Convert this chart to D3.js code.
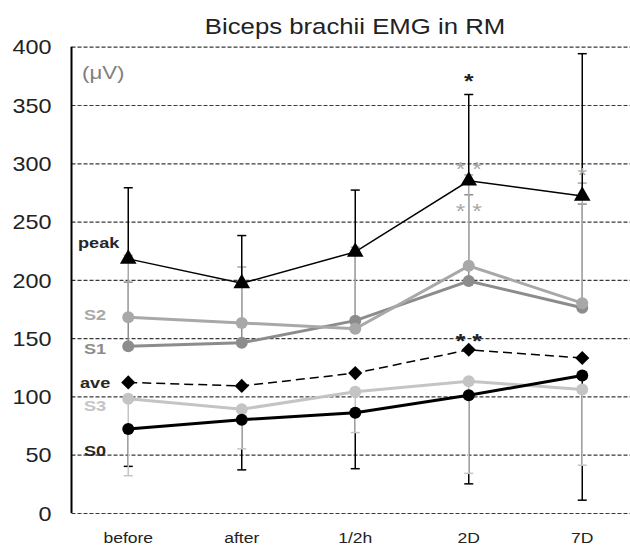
<!DOCTYPE html>
<html>
<head>
<meta charset="utf-8">
<script src="https://cdn.jsdelivr.net/npm/d3@7"></script>
<style>
  body { margin: 0; background: #fff; }
  text { font-family: "Liberation Sans", Arial, sans-serif; }
</style>
</head>
<body>
<div id="chart"></div>
<script>
// categories and tick values
const categories = ["before", "after", "1/2h", "2D", "7D"];
const yTicks = [0, 50, 100, 150, 200, 250, 300, 350, 400];

// series means (µV)
const peak = [218, 197, 224, 285, 272];
const s2 = [168, 163, 158, 212, 180];
const s1 = [143, 146, 165, 199, 176];
const ave = [112, 109, 120, 140, 133];
const s3 = [98, 89, 104, 113, 106];
const s0 = [72, 80, 86, 101, 118];

// error bar ends (one sided)
const peakUpper = [279, 238, 277, 359, 394];
const s2Upper = [221, 211, 228, 290, 283];
const s1Upper = [198, 195, 222, 273, 265];
const s3Lower = [32, 55, 69, 34, 41];
const s0Lower = [40, 37, 38, 25, 11];

// significance marks: category, level (µV), text
const starCats = ["2D", "2D", "2D", "7D", "2D"];
const starLevels = [375, 299, 263, 294, 152];
const starTexts = ["*", "* *", "* *", "*", "* *"];
const starIsGray = [false, true, true, true, false];

// series name tags placed at the left, level in µV
const tagNames = ["peak", "S2", "S1", "ave", "S3", "S0"];
const tagLevels = [232, 170, 141, 112, 92, 54];

const W = 630, H = 546;
const stretch = 1.17; // text in the picture is slightly wide
const axisX = 71.5;

const svg = d3.select("#chart").append("svg")
    .attr("width", W)
    .attr("height", H);

const x = d3.scaleBand().domain(categories).range([axisX, axisX + 5 * 113.5]);
const cx = c => x(c) + x.bandwidth() / 2;
const y = d3.scaleLinear().domain([0, 400]).range([513, 46.7]);

// gridlines + y labels
const gy = svg.append("g")
    .attr("transform", `translate(${axisX},0)`)
    .call(d3.axisLeft(y).tickValues(yTicks).tickSize(-(W - axisX)).tickFormat(d3.format("d")));
gy.select(".domain").remove();
gy.selectAll(".tick line")
    .attr("stroke", "#383838")
    .attr("stroke-width", 1.2)
    .attr("stroke-dasharray", "4,2");
gy.selectAll(".tick text")
    .attr("x", -20 / stretch)
    .attr("dy", "0.36em")
    .attr("transform", `scale(${stretch},1)`)
    .attr("font-size", 20)
    .attr("fill", "#222");

// y axis line
svg.append("line")
    .attr("x1", axisX).attr("x2", axisX)
    .attr("y1", y(400)).attr("y2", y(0))
    .attr("stroke", "#000").attr("stroke-width", 2);

// x labels
svg.append("g").selectAll("text")
    .data(categories)
    .join("text")
    .attr("transform", d => `translate(${cx(d)},543) scale(${stretch},1)`)
    .attr("text-anchor", "middle")
    .attr("font-size", 15)
    .attr("fill", "#222")
    .text(d => d);

// title
svg.append("text")
    .attr("transform", `translate(355,34) scale(${stretch},1)`)
    .attr("text-anchor", "middle")
    .attr("font-size", 22)
    .attr("fill", "#222")
    .text("Biceps brachii EMG in RM");

// unit
svg.append("text")
    .attr("transform", `translate(82,79) scale(${stretch},1)`)
    .attr("font-size", 19)
    .attr("fill", "#808080")
    .text("(μV)");

// error bars
function errorBars(vals, ends, color) {
    const g = svg.append("g").attr("stroke", color).attr("stroke-width", 1.5);
    g.selectAll("line.v")
        .data(vals)
        .join("line")
        .attr("class", "v")
        .attr("x1", (d, i) => cx(categories[i]))
        .attr("x2", (d, i) => cx(categories[i]))
        .attr("y1", d => y(d))
        .attr("y2", (d, i) => y(ends[i]));
    g.selectAll("line.c")
        .data(ends)
        .join("line")
        .attr("class", "c")
        .attr("x1", (d, i) => cx(categories[i]) - 4.5)
        .attr("x2", (d, i) => cx(categories[i]) + 4.5)
        .attr("y1", d => y(d))
        .attr("y2", d => y(d));
}
errorBars(s0, s0Lower, "#000");
errorBars(s3, s3Lower, "#c4c4c4");
errorBars(s1, s1Upper, "#8c8c8c");
errorBars(s2, s2Upper, "#a8a8a8");
errorBars(peak, peakUpper, "#000");

const lineGen = d3.line()
    .x((d, i) => cx(categories[i]))
    .y(d => y(d));

function series(vals, color, width, dash) {
    svg.append("path")
        .datum(vals)
        .attr("fill", "none")
        .attr("stroke", color)
        .attr("stroke-width", width)
        .attr("stroke-dasharray", dash)
        .attr("d", lineGen);
}
function dots(vals, color, r) {
    svg.append("g").selectAll("circle")
        .data(vals)
        .join("circle")
        .attr("cx", (d, i) => cx(categories[i]))
        .attr("cy", d => y(d))
        .attr("r", r)
        .attr("fill", color);
}

series(s3, "#c4c4c4", 3, null);
dots(s3, "#c4c4c4", 6);
series(s0, "#000", 3, null);
dots(s0, "#000", 6);
series(ave, "#000", 1.5, "9,5");
svg.append("g").selectAll("path")
    .data(ave)
    .join("path")
    .attr("transform", (d, i) => `translate(${cx(categories[i])},${y(d)}) rotate(45)`)
    .attr("d", d3.symbol(d3.symbolSquare, 100))
    .attr("fill", "#000");
series(s1, "#8c8c8c", 3, null);
dots(s1, "#8c8c8c", 6);
series(s2, "#a8a8a8", 3, null);
dots(s2, "#a8a8a8", 6);
series(peak, "#000", 1.5, null);
svg.append("g").selectAll("path")
    .data(peak)
    .join("path")
    .attr("transform", (d, i) => `translate(${cx(categories[i])},${y(d)})`)
    .attr("d", d3.symbol(d3.symbolTriangle, 120))
    .attr("fill", "#000");

// significance marks
svg.append("g").selectAll("text")
    .data(starTexts)
    .join("text")
    .attr("transform", (d, i) => `translate(${cx(starCats[i])},${y(starLevels[i]) + 12}) scale(${stretch},1)`)
    .attr("text-anchor", "middle")
    .attr("font-size", 21)
    .attr("font-weight", (d, i) => starIsGray[i] ? "normal" : "bold")
    .attr("fill", (d, i) => starIsGray[i] ? "#a8a8a8" : "#222")
    .text(d => d);

// series tags
const tagColors = ["#262626", "#a8a8a8", "#8c8c8c", "#262626", "#c4c4c4", "#262626"];
const tagX = [78, 84, 84, 80, 84, 84];
svg.append("g").selectAll("text")
    .data(tagNames)
    .join("text")
    .attr("transform", (d, i) => `translate(${tagX[i]},${y(tagLevels[i]) + 5.5}) scale(${stretch},1)`)
    .attr("font-size", 15.5)
    .attr("font-weight", "bold")
    .attr("fill", (d, i) => tagColors[i])
    .text(d => d);
</script>
</body>
</html>
